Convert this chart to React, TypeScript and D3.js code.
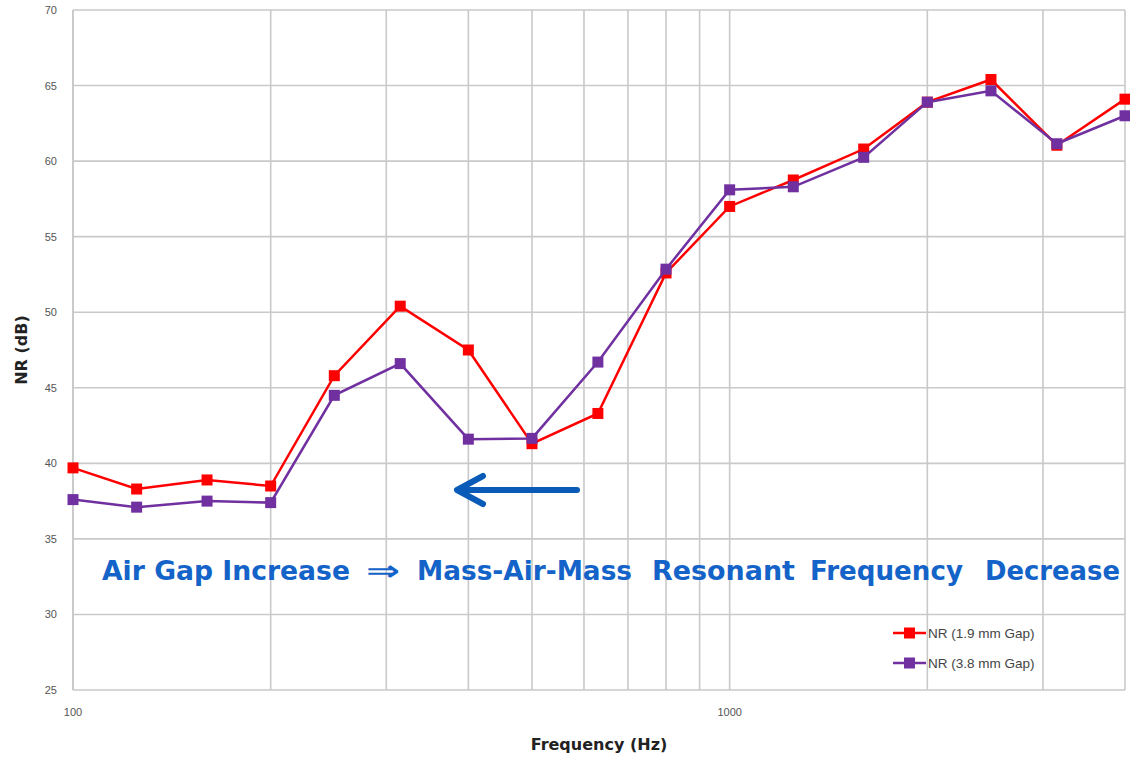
import React from "react";
import * as d3 from "d3";

const freqs = [100, 125, 160, 200, 250, 315, 400, 500, 630, 800, 1000, 1250, 1600, 2000, 2500, 3150, 4000];
const nrGap19 = [39.7, 38.3, 38.9, 38.5, 45.8, 50.4, 47.5, 41.3, 43.3, 52.6, 57.0, 58.75, 60.8, 63.9, 65.4, 61.05, 64.1];
const nrGap38 = [37.6, 37.1, 37.5, 37.4, 44.5, 46.6, 41.6, 41.65, 46.7, 52.85, 58.1, 58.3, 60.25, 63.9, 64.65, 61.15, 63.0];
const yTicks = [25, 30, 35, 40, 45, 50, 55, 60, 65, 70];
const xGrid = [100, 200, 300, 400, 500, 600, 700, 800, 900, 1000, 2000, 3000, 4000];
const xLabels = [100, 1000];
const seriesNames = ["NR (1.9 mm Gap)", "NR (3.8 mm Gap)"];
const seriesColors = ["#ff0000", "#7030a0"];
const annotationWords = ["Air Gap Increase", "\u21D2", "Mass-Air-Mass", "Resonant", "Frequency", "Decrease"];

const W = 1130, H = 758;
const L = 73, R = 1125, T = 10, B = 690;
const wordX = [102, 366, 417, 652, 810, 985];
const wordW = [248, 34, 215, 143, 153, 135];

export default function App() {
  const x = d3.scaleLog().domain([100, 4000]).range([L, R]);
  const y = d3.scaleLinear().domain([25, 70]).range([B, T]);
  const line = d3.line<number>().x((_, i) => x(freqs[i])).y((d) => y(d));
  const series = [nrGap19, nrGap38];
  const grid = "#c9c9c9";
  const ms = 11;
  return (
    <svg width={W} height={H} style={{ position: "absolute", left: 0, top: 0, background: "#fff" }}>
      <rect x={0} y={0} width={W} height={H} fill="#fff" />
      {yTicks.map((t) => (
        <g key={"y" + t}>
          <line x1={L} x2={R} y1={y(t)} y2={y(t)} stroke={grid} strokeWidth={1.6} />
          <text x={57} y={y(t) + 4} textAnchor="end" fontFamily="Liberation Sans, Arial" fontSize={11} fill="#555">{t}</text>
        </g>
      ))}
      {xGrid.map((f) => (
        <line key={"x" + f} x1={x(f)} x2={x(f)} y1={T} y2={B} stroke={grid} strokeWidth={1.6} />
      ))}
      <line x1={L} x2={L} y1={T} y2={B} stroke={grid} strokeWidth={1.8} />
      {xLabels.map((f) => (
        <text key={"xl" + f} x={x(f)} y={716} textAnchor="middle" fontFamily="Liberation Sans, Arial" fontSize={11} fill="#555">{f}</text>
      ))}
      <text x={(L + R) / 2} y={750} textAnchor="middle" fontFamily="DejaVu Sans, sans-serif" fontWeight="bold" fontSize={16} fill="#222">Frequency (Hz)</text>
      <text transform={`translate(27,${(T + B) / 2}) rotate(-90)`} textAnchor="middle" fontFamily="DejaVu Sans, sans-serif" fontWeight="bold" fontSize={16} fill="#222">NR (dB)</text>

      {series.map((s, k) => (
        <g key={"s" + k}>
          <path d={line(s) || ""} fill="none" stroke={seriesColors[k]} strokeWidth={2.5} />
          {s.map((v, i) => (
            <rect key={i} x={x(freqs[i]) - ms / 2} y={y(v) - ms / 2} width={ms} height={ms} fill={seriesColors[k]} />
          ))}
        </g>
      ))}

      {/* arrow */}
      <g stroke="#0a5bb8" strokeWidth={6} fill="none" strokeLinecap="round" strokeLinejoin="round">
        <line x1={577} y1={490} x2={460} y2={490} />
        <polyline points="483,476 457,490 483,504" />
      </g>
      {annotationWords.map((w, i) => (
        <text key={"a" + i} x={wordX[i]} y={580} fontFamily="DejaVu Sans, sans-serif" fontWeight="bold" fontSize={27} fill="#1463c8" textLength={wordW[i]} lengthAdjust="spacingAndGlyphs">{w}</text>
      ))}

      {/* legend */}
      {seriesNames.map((n, k) => (
        <g key={"lg" + k} transform={`translate(0,${633 + k * 30})`}>
          <line x1={893} x2={926} y1={0} y2={0} stroke={seriesColors[k]} strokeWidth={2.5} />
          <rect x={904} y={-5.5} width={11} height={11} fill={seriesColors[k]} />
          <text x={928} y={5} fontFamily="Liberation Sans, Arial" fontSize={13.5} fill="#444">{n}</text>
        </g>
      ))}
    </svg>
  );
}
